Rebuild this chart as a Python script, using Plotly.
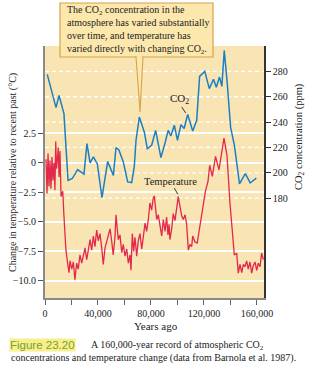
import plotly.graph_objects as go

# ---- data (years ago, in thousands) ----
co2_years_k = [1.7, 8.3, 10.6, 14.3, 17.4, 20.6, 24.6, 29.4, 31.7, 34.0,
               36.5, 39.5, 43.0, 47.3, 51.6, 53.6, 55.8, 59.1, 62.4, 65.4,
               67.4, 68.7, 71.2, 75.0, 77.2, 80.5, 83.5, 87.5, 90.6, 93.0,
               95.0, 97.6, 100.0, 102.6, 105.0, 107.7, 111.5, 114.5, 116.7, 120.6,
               124.0, 127.2, 129.3, 131.7, 133.5, 135.3, 137.6, 140.1, 143.0, 146.8,
               151.2, 154.9, 159.5]
co2_ppm = [277.6, 251.4, 261, 246.7, 194, 195.5, 202.6, 199, 223, 207.8,
           212.5, 207, 180.5, 209, 198, 220, 218, 208.6, 192.8, 192.3,
           205, 225.7, 244, 232, 219, 221.7, 233.5, 212, 223.5, 233.5,
           229, 237.5, 225.7, 238, 235, 246, 233, 241.4, 276, 280,
           266.4, 273.8, 267.5, 275.5, 268.2, 296.5, 270, 235.8, 221.5, 191.2,
           199.4, 192, 195.8]

temp_years_k = [0.75, 1.5, 2.3, 3.0, 3.8, 4.5, 5.3, 6.0, 6.8, 7.5,
                8.1, 8.7, 9.3, 10.0, 10.6, 11.3, 12.1, 13.4, 14.3, 15.8,
                17.1, 18.1, 18.9, 20.2, 21.4, 22.6, 23.9, 25.1, 26.4, 27.7,
                28.9, 30.2, 31.5, 32.7, 34.0, 35.2, 36.5, 37.7, 39.0, 40.2,
                41.5, 42.8, 44.0, 45.3, 46.6, 47.8, 49.1, 50.3, 51.5, 52.8,
                53.6, 55.3, 56.6, 57.9, 59.1, 60.4, 61.7, 62.9, 64.2, 64.9,
                65.9, 66.9, 67.9, 69.2, 70.4, 71.7, 73.0, 74.2, 75.5, 76.7,
                78.0, 79.2, 80.5, 81.7, 82.5, 83.5, 84.3, 85.5, 86.8, 88.1,
                89.3, 90.6, 91.8, 92.8, 93.6, 94.3, 95.6, 96.8, 98.1, 99.4,
                100.6, 101.9, 103.2, 104.4, 105.7, 106.9, 108.2, 109.4, 110.7, 111.5,
                113.2, 114.9, 119.5, 121.1, 123.0, 124.3, 126.3, 128.7, 131.3, 135.1,
                137.4, 139.6, 142.9, 144.7, 145.9, 147.2, 148.5, 149.7, 150.9, 152.2,
                153.4, 154.7, 156.0, 157.2, 158.5, 159.8, 161.0, 162.3, 163.5, 164.8]
temp_change = [0.3, -2.6, 0.8, -2.0, 0.2, -2.2, 0.5, -1.5, 0.0, -2.3,
               1.8, -0.5, 0.2, 1.3, -1.2, 1.0, -2.85, -2.4, -4.5, -7.4,
               -8.5, -9.3, -8.3, -9.0, -8.4, -9.9, -8.5, -9.0, -7.8, -8.5,
               -7.9, -7.2, -8.2, -7.4, -6.5, -7.4, -6.2, -7.1, -5.7, -6.6,
               -6.0, -7.2, -8.6, -7.2, -6.6, -6.0, -5.6, -6.6, -7.8, -6.3,
               -4.4, -6.5, -6.1, -7.6, -6.9, -7.9, -7.3, -8.5, -7.8, -9.1,
               -6.0, -7.5, -6.3, -7.9, -6.6, -6.0, -7.3, -6.3, -5.1, -5.8,
               -4.8, -3.4, -4.0, -3.0, -2.8, -3.9, -4.8, -4.4, -5.4, -6.2,
               -4.8, -5.8, -4.6, -6.1, -5.2, -6.5, -5.6, -4.3, -4.9, -3.7,
               -2.85, -3.7, -4.5, -4.8, -4.4, -5.2, -7.4, -6.9, -7.1, -6.2,
               -6.7, -6.8, -3.4, -2.4, -1.6, -0.2, -1.15, 0.55, -0.6, 2.1,
               0.6, -3.4, -7.8, -7.65, -9.35, -8.6, -9.3, -8.6, -8.8, -8.3,
               -9.0, -8.4, -9.35, -8.7, -8.4, -9.1, -8.5, -8.8, -7.65, -8.2]

x_tickvals = [0, 20000, 40000, 60000, 80000, 100000, 120000, 140000, 160000]
x_ticktext = ["0", "", "40,000", "", "80,000", "", "120,000", "", "160,000"]
temp_tickvals = [-10, -7.5, -5, -2.5, 0, 2.5]
temp_ticktext = ["\u221210.0", "\u22127.5", "\u22125.0", "\u22122.5", "0", "2.5"]
co2_tickvals = [180, 200, 220, 240, 260, 280]

co2_years = [v * 1000 for v in co2_years_k]
temp_years = [v * 1000 for v in temp_years_k]

SERIF = "Liberation Serif"
BG = "#f8e5b3"
BLUE = "#1b7fc4"
RED = "#e3284c"
X_MAX = 165300

fig = go.Figure()
fig.add_trace(go.Scatter(x=temp_years, y=temp_change, mode="lines",
                         line=dict(color=RED, width=1.3), yaxis="y",
                         hoverinfo="skip", showlegend=False))
fig.add_trace(go.Scatter(x=co2_years, y=co2_ppm, mode="lines",
                         line=dict(color=BLUE, width=1.5), yaxis="y2",
                         hoverinfo="skip", showlegend=False))

W, H = 328, 381
L, R, T, B = 45, 64, 46, 83
pw, ph = W - L - R, H - T - B


def px(xp):
    return (xp - L) / pw


def py(yp):
    return (H - B - yp) / ph


fig.update_layout(
    width=W, height=H,
    margin=dict(l=L, r=R, t=T, b=B, pad=0),
    paper_bgcolor="white",
    plot_bgcolor=BG,
    font=dict(family=SERIF, size=10, color="#222"),
    xaxis=dict(range=[0, X_MAX], tickvals=x_tickvals, ticktext=x_ticktext,
               ticks="outside", ticklen=5, tickwidth=1.2, tickcolor="#666",
               showgrid=False, zeroline=False, showline=True,
               linecolor="#8a8a8a", linewidth=2,
               tickfont=dict(family=SERIF, size=10, color="#222")),
    yaxis=dict(range=[-11.45, 9.9], tickvals=temp_tickvals, ticktext=temp_ticktext,
               ticks="outside", ticklen=5, tickwidth=1.2, tickcolor="#555",
               showgrid=True, gridcolor="white", gridwidth=1.6,
               zeroline=False, showline=True, linecolor="#8a8a8a", linewidth=2,
               tickfont=dict(family=SERIF, size=10, color="#222")),
    yaxis2=dict(range=[101.3, 300], overlaying="y", side="right",
                tickvals=co2_tickvals, ticks="outside", ticklen=5, tickwidth=1.2,
                tickcolor="#333", showgrid=False, zeroline=False, showline=True,
                linecolor="#333", linewidth=1.5,
                tickfont=dict(family=SERIF, size=10, color="#222")),
)

# dashed white CO2 gridlines
for v in co2_tickvals:
    fig.add_shape(type="line", xref="x", yref="y2", x0=0, x1=X_MAX, y0=v, y1=v,
                  line=dict(color="white", width=1.3, dash="4px,3px"), layer="below")

# callout box with pointer
BOX_FILL = "#fce7ac"
BOX_LINE = "#d6a24a"
fig.add_shape(type="rect", xref="paper", yref="paper",
              x0=px(60), x1=px(213), y0=py(57), y1=py(3),
              fillcolor=BOX_FILL, line=dict(color=BOX_LINE, width=1.2), layer="above")
fig.add_shape(type="path", xref="paper", yref="paper",
              path=f"M {px(136)} {py(56.2)} L {px(140)} {py(112)} L {px(143)} {py(56.2)} Z",
              fillcolor=BOX_FILL, line=dict(width=0), layer="above")
fig.add_shape(type="path", xref="paper", yref="paper",
              path=f"M {px(136)} {py(56.5)} L {px(140)} {py(112)} L {px(143)} {py(56.5)}",
              line=dict(color=BOX_LINE, width=1.1), layer="above")

annotations = [
    dict(text="The CO<sub>2</sub> concentration in the<br>atmosphere has varied substantially"
              "<br>over time, and temperature has<br>varied directly with changing CO<sub>2</sub>.",
         xref="paper", yref="paper", x=px(65), y=py(30), xanchor="left", yanchor="middle",
         align="left", showarrow=False, font=dict(family=SERIF, size=10, color="#222")),
    # series labels
    dict(text="CO<sub>2</sub>", xref="x", yref="y2", x=101500, y=258.5,
         xanchor="center", yanchor="middle",
         showarrow=False, font=dict(family=SERIF, size=11, color="#222")),
    dict(text="Temperature", xref="x", yref="y", x=95000, y=-1.55,
         xanchor="center", yanchor="middle",
         showarrow=False, font=dict(family=SERIF, size=10.5, color="#222")),
    # axis titles
    dict(text="Years ago", xref="paper", yref="paper", x=px(156), y=py(326),
         xanchor="center", yanchor="middle",
         showarrow=False, font=dict(family=SERIF, size=11, color="#222")),
    dict(text="Change in temperature relative to recent past (\u00b0C)", xref="paper",
         yref="paper", x=px(13), y=py(173), xanchor="center", yanchor="middle",
         textangle=-90, showarrow=False,
         font=dict(family=SERIF, size=10, color="#222")),
    dict(text="CO<sub>2</sub> concentration (ppm)", xref="paper", yref="paper",
         x=px(299), y=py(137), xanchor="center", yanchor="middle",
         textangle=-90, showarrow=False,
         font=dict(family=SERIF, size=10.5, color="#222")),
    # caption
    dict(text="Figure 23.20", xref="paper", yref="paper", x=px(9), y=py(345),
         xanchor="left", yanchor="middle", showarrow=False, bgcolor="#f6ef8a",
         borderpad=0, font=dict(family="Liberation Sans", size=11.5, color="#7c9c3c")),
    dict(text="A 160,000-year record of atmospheric CO<sub>2</sub>", xref="paper", yref="paper",
         x=px(89), y=py(345), xanchor="left", yanchor="middle", showarrow=False,
         font=dict(family=SERIF, size=10, color="#222")),
    dict(text="concentrations and temperature change (data from Barnola et al. 1987).",
         xref="paper", yref="paper", x=px(9), y=py(358), xanchor="left", yanchor="middle",
         showarrow=False, font=dict(family=SERIF, size=10, color="#222")),
]
fig.update_layout(annotations=annotations)

# leader lines for series labels
fig.add_shape(type="line", xref="x", yref="y2", x0=103200, y0=251.9, x1=106200, y1=247.2,
              line=dict(color="#222", width=0.9))
fig.add_shape(type="line", xref="x", yref="y", x0=97600, y0=-2.14, x1=100200, y1=-2.65,
              line=dict(color="#222", width=0.9))

fig.write_html("out.html", config={"displayModeBar": False})
